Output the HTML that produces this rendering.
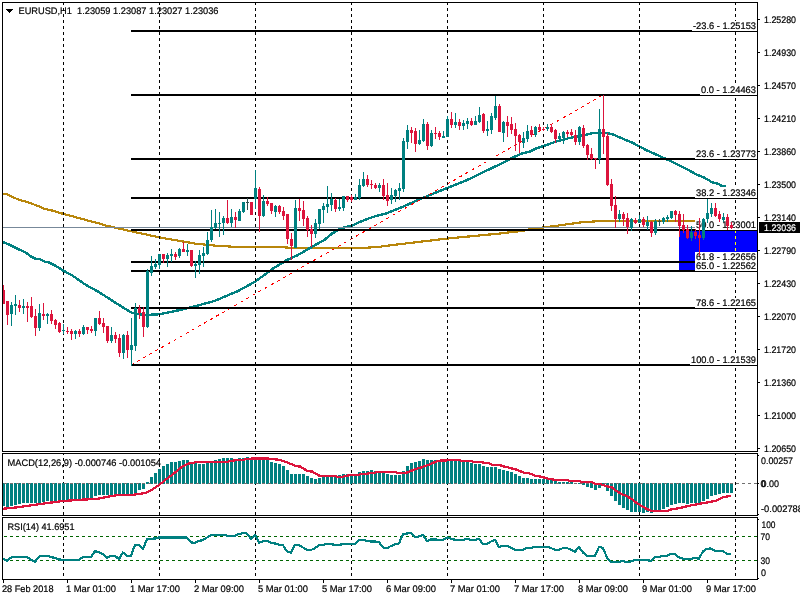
<!DOCTYPE html>
<html><head><meta charset="utf-8"><title>EURUSD,H1</title>
<style>html,body{margin:0;padding:0;background:#fff;overflow:hidden}svg{display:block}</style></head>
<body>
<svg width="800" height="600" viewBox="0 0 800 600" shape-rendering="crispEdges" font-family="&quot;Liberation Sans&quot;, sans-serif" font-size="9.5" text-rendering="geometricPrecision">
<rect x="0" y="0" width="800" height="600" fill="#fff"/>
<defs><clipPath id="cm"><rect x="3" y="3" width="754" height="448"/></clipPath><clipPath id="c2"><rect x="3" y="454" width="754" height="61"/></clipPath><clipPath id="c3"><rect x="3" y="518" width="754" height="61"/></clipPath></defs>
<g clip-path="url(#cm)">
<polyline points="3.00,194.00 7.00,194.00 12.00,197.00 20.00,200.00 30.00,203.00 38.00,206.00 45.00,209.00 52.00,210.50 60.00,213.00 63.00,213.75 100.00,223.75 103.50,225.00 131.00,231.25 160.00,237.50 196.00,243.75 215.00,245.60 236.00,246.90 280.00,246.90 292.00,248.00 363.00,248.00 380.00,246.75 388.00,245.60 447.50,238.50 500.00,233.50 523.00,230.80 532.00,228.70 543.00,227.50 560.00,225.30 580.00,222.50 588.00,221.90 600.00,221.00 700.00,221.00" fill="none" stroke="#B8860B" stroke-width="2.2" stroke-linejoin="round" />
<polyline points="3.00,242.00 10.00,245.00 18.00,249.00 26.00,252.75 31.00,256.50 36.00,259.10 40.00,259.30 45.00,261.75 48.00,262.00 55.00,265.50 60.00,268.50 63.00,270.50 72.50,275.60 85.00,284.40 97.50,291.25 103.50,295.00 112.00,300.50 125.00,308.75 132.00,313.00 140.00,314.50 146.00,315.00 160.00,314.20 180.00,310.00 196.00,306.00 215.00,300.80 238.00,291.00 255.75,281.30 272.00,269.20 287.00,260.00 298.00,255.00 313.00,246.25 324.25,240.00 331.75,233.75 341.75,228.00 351.75,225.60 363.00,220.60 373.00,216.90 387.50,213.00 402.50,206.90 421.00,198.75 430.00,195.00 447.00,188.00 460.00,183.00 470.00,178.75 480.00,173.75 492.00,168.00 505.00,161.90 511.00,158.50 517.00,155.60 523.50,153.00 530.00,151.50 536.00,148.50 543.00,146.25 557.00,141.25 569.50,138.00 584.50,135.00 594.50,132.75 607.00,133.00 613.00,134.40 619.50,137.25 627.00,140.60 632.00,142.50 646.00,150.00 660.00,156.25 672.50,162.00 687.50,169.40 695.00,173.75 705.00,178.00 712.50,182.50 718.00,183.75 722.00,186.00 726.00,186.25" fill="none" stroke="#008080" stroke-width="2.4" stroke-linejoin="round" />
<rect x="3" y="227" width="754" height="1" fill="#778899"/>
<line x1="131" y1="365" x2="603" y2="95" stroke="#FF0000" stroke-width="1" stroke-dasharray="3.1 3.908"/>
<rect x="679" y="231" width="78" height="39" fill="#0000FF"/>
<rect x="131" y="30" width="626" height="2" fill="#000"/>
<rect x="131" y="94" width="626" height="2" fill="#000"/>
<rect x="131" y="158" width="626" height="2" fill="#000"/>
<rect x="131" y="197" width="626" height="2" fill="#000"/>
<rect x="131" y="229" width="626" height="2" fill="#000"/>
<rect x="131" y="261" width="626" height="2" fill="#000"/>
<rect x="131" y="270" width="626" height="2" fill="#000"/>
<rect x="131" y="307" width="626" height="2" fill="#000"/>
<rect x="131" y="364" width="626" height="2" fill="#000"/>
<line x1="63.5" y1="3" x2="63.5" y2="451" stroke="#000" stroke-width="1" stroke-dasharray="3 3" stroke-dashoffset="1"/>
<line x1="159.5" y1="3" x2="159.5" y2="451" stroke="#000" stroke-width="1" stroke-dasharray="3 3" stroke-dashoffset="1"/>
<line x1="255.5" y1="3" x2="255.5" y2="451" stroke="#000" stroke-width="1" stroke-dasharray="3 3" stroke-dashoffset="1"/>
<line x1="351.5" y1="3" x2="351.5" y2="451" stroke="#000" stroke-width="1" stroke-dasharray="3 3" stroke-dashoffset="1"/>
<line x1="447.5" y1="3" x2="447.5" y2="451" stroke="#000" stroke-width="1" stroke-dasharray="3 3" stroke-dashoffset="1"/>
<line x1="543.5" y1="3" x2="543.5" y2="451" stroke="#000" stroke-width="1" stroke-dasharray="3 3" stroke-dashoffset="1"/>
<line x1="639.5" y1="3" x2="639.5" y2="451" stroke="#000" stroke-width="1" stroke-dasharray="3 3" stroke-dashoffset="1"/>
<line x1="735.5" y1="3" x2="735.5" y2="451" stroke="#000" stroke-width="1" stroke-dasharray="3 3" stroke-dashoffset="1"/>
<clipPath id="cb"><rect x="679" y="231" width="78" height="39"/></clipPath>
<g clip-path="url(#cb)"><line x1="735.5" y1="3" x2="735.5" y2="451" stroke="#FFFF00" stroke-width="1" stroke-dasharray="3 3" stroke-dashoffset="1"/></g>
<rect x="692" y="21" width="65" height="10" fill="#fff"/>
<text x="756" y="29" text-anchor="end" fill="#000" stroke="#000" stroke-width="0.2" textLength="63" lengthAdjust="spacingAndGlyphs" xml:space="preserve">-23.6 - 1.25153</text>
<rect x="700" y="85" width="57" height="10" fill="#fff"/>
<text x="756" y="93" text-anchor="end" fill="#000" stroke="#000" stroke-width="0.2" textLength="55" lengthAdjust="spacingAndGlyphs" xml:space="preserve">0.0 - 1.24463</text>
<rect x="695" y="149" width="62" height="10" fill="#fff"/>
<text x="756" y="157" text-anchor="end" fill="#000" stroke="#000" stroke-width="0.2" textLength="60" lengthAdjust="spacingAndGlyphs" xml:space="preserve">23.6 - 1.23773</text>
<rect x="695" y="188" width="62" height="10" fill="#fff"/>
<text x="756" y="196" text-anchor="end" fill="#000" stroke="#000" stroke-width="0.2" textLength="60" lengthAdjust="spacingAndGlyphs" xml:space="preserve">38.2 - 1.23346</text>
<rect x="695" y="220" width="62" height="10" fill="#fff"/>
<text x="756" y="228" text-anchor="end" fill="#000" stroke="#000" stroke-width="0.2" textLength="60" lengthAdjust="spacingAndGlyphs" xml:space="preserve">50.0 - 1.23001</text>
<rect x="695" y="252" width="62" height="10" fill="#fff"/>
<text x="756" y="260" text-anchor="end" fill="#000" stroke="#000" stroke-width="0.2" textLength="60" lengthAdjust="spacingAndGlyphs" xml:space="preserve">61.8 - 1.22656</text>
<rect x="695" y="261" width="62" height="10" fill="#fff"/>
<text x="756" y="269" text-anchor="end" fill="#000" stroke="#000" stroke-width="0.2" textLength="60" lengthAdjust="spacingAndGlyphs" xml:space="preserve">65.0 - 1.22562</text>
<rect x="695" y="298" width="62" height="10" fill="#fff"/>
<text x="756" y="306" text-anchor="end" fill="#000" stroke="#000" stroke-width="0.2" textLength="60" lengthAdjust="spacingAndGlyphs" xml:space="preserve">78.6 - 1.22165</text>
<rect x="690" y="355" width="67" height="10" fill="#fff"/>
<text x="756" y="363" text-anchor="end" fill="#000" stroke="#000" stroke-width="0.2" textLength="65" lengthAdjust="spacingAndGlyphs" xml:space="preserve">100.0 - 1.21539</text>
<rect x="3" y="285" width="1" height="19" fill="#DC143C"/>
<rect x="2" y="290" width="3" height="14" fill="#DC143C"/>
<rect x="7" y="301" width="1" height="24" fill="#DC143C"/>
<rect x="6" y="301" width="3" height="14" fill="#DC143C"/>
<rect x="11" y="302" width="1" height="24" fill="#008080"/>
<rect x="10" y="305" width="3" height="9" fill="#008080"/>
<rect x="15" y="295" width="1" height="20" fill="#008080"/>
<rect x="14" y="304" width="3" height="2" fill="#008080"/>
<rect x="19" y="300" width="1" height="12" fill="#DC143C"/>
<rect x="18" y="305" width="3" height="3" fill="#DC143C"/>
<rect x="23" y="299" width="1" height="15" fill="#008080"/>
<rect x="22" y="306" width="3" height="2" fill="#008080"/>
<rect x="27" y="302" width="1" height="20" fill="#DC143C"/>
<rect x="26" y="306" width="3" height="2" fill="#DC143C"/>
<rect x="31" y="297" width="1" height="21" fill="#DC143C"/>
<rect x="30" y="306" width="3" height="11" fill="#DC143C"/>
<rect x="35" y="309" width="1" height="27" fill="#DC143C"/>
<rect x="34" y="316" width="3" height="12" fill="#DC143C"/>
<rect x="39" y="304" width="1" height="27" fill="#008080"/>
<rect x="38" y="313" width="3" height="15" fill="#008080"/>
<rect x="43" y="303" width="1" height="17" fill="#DC143C"/>
<rect x="42" y="314" width="3" height="2" fill="#DC143C"/>
<rect x="47" y="313" width="1" height="11" fill="#008080"/>
<rect x="46" y="314" width="3" height="2" fill="#008080"/>
<rect x="51" y="310" width="1" height="14" fill="#DC143C"/>
<rect x="50" y="314" width="3" height="7" fill="#DC143C"/>
<rect x="55" y="319" width="1" height="10" fill="#DC143C"/>
<rect x="54" y="320" width="3" height="5" fill="#DC143C"/>
<rect x="59" y="322" width="1" height="11" fill="#DC143C"/>
<rect x="58" y="323" width="3" height="9" fill="#DC143C"/>
<rect x="63" y="324" width="1" height="10" fill="#008080"/>
<rect x="62" y="330" width="3" height="1" fill="#008080"/>
<rect x="67" y="327" width="1" height="7" fill="#DC143C"/>
<rect x="66" y="331" width="3" height="1" fill="#DC143C"/>
<rect x="71" y="329" width="1" height="11" fill="#DC143C"/>
<rect x="70" y="331" width="3" height="3" fill="#DC143C"/>
<rect x="75" y="330" width="1" height="9" fill="#008080"/>
<rect x="74" y="331" width="3" height="3" fill="#008080"/>
<rect x="79" y="329" width="1" height="8" fill="#DC143C"/>
<rect x="78" y="331" width="3" height="3" fill="#DC143C"/>
<rect x="83" y="325" width="1" height="10" fill="#008080"/>
<rect x="82" y="327" width="3" height="7" fill="#008080"/>
<rect x="87" y="327" width="1" height="7" fill="#DC143C"/>
<rect x="86" y="327" width="3" height="3" fill="#DC143C"/>
<rect x="91" y="326" width="1" height="7" fill="#DC143C"/>
<rect x="90" y="329" width="3" height="2" fill="#DC143C"/>
<rect x="95" y="318" width="1" height="18" fill="#008080"/>
<rect x="94" y="318" width="3" height="13" fill="#008080"/>
<rect x="99" y="311" width="1" height="14" fill="#DC143C"/>
<rect x="98" y="318" width="3" height="6" fill="#DC143C"/>
<rect x="103" y="318" width="1" height="15" fill="#DC143C"/>
<rect x="102" y="323" width="3" height="4" fill="#DC143C"/>
<rect x="107" y="326" width="1" height="17" fill="#DC143C"/>
<rect x="106" y="326" width="3" height="15" fill="#DC143C"/>
<rect x="111" y="327" width="1" height="16" fill="#008080"/>
<rect x="110" y="335" width="3" height="6" fill="#008080"/>
<rect x="115" y="332" width="1" height="11" fill="#DC143C"/>
<rect x="114" y="335" width="3" height="4" fill="#DC143C"/>
<rect x="119" y="334" width="1" height="23" fill="#DC143C"/>
<rect x="118" y="338" width="3" height="15" fill="#DC143C"/>
<rect x="123" y="334" width="1" height="25" fill="#008080"/>
<rect x="122" y="335" width="3" height="18" fill="#008080"/>
<rect x="127" y="331" width="1" height="27" fill="#DC143C"/>
<rect x="126" y="335" width="3" height="15" fill="#DC143C"/>
<rect x="131" y="318" width="1" height="48" fill="#008080"/>
<rect x="130" y="345" width="3" height="5" fill="#008080"/>
<rect x="135" y="303" width="1" height="48" fill="#008080"/>
<rect x="134" y="308" width="3" height="38" fill="#008080"/>
<rect x="139" y="305" width="1" height="14" fill="#DC143C"/>
<rect x="138" y="308" width="3" height="5" fill="#DC143C"/>
<rect x="143" y="307" width="1" height="30" fill="#DC143C"/>
<rect x="142" y="312" width="3" height="15" fill="#DC143C"/>
<rect x="147" y="269" width="1" height="59" fill="#008080"/>
<rect x="146" y="271" width="3" height="56" fill="#008080"/>
<rect x="151" y="256" width="1" height="20" fill="#008080"/>
<rect x="150" y="266" width="3" height="7" fill="#008080"/>
<rect x="155" y="259" width="1" height="10" fill="#008080"/>
<rect x="154" y="264" width="3" height="3" fill="#008080"/>
<rect x="159" y="254" width="1" height="15" fill="#008080"/>
<rect x="158" y="254" width="3" height="11" fill="#008080"/>
<rect x="163" y="254" width="1" height="9" fill="#DC143C"/>
<rect x="162" y="254" width="3" height="5" fill="#DC143C"/>
<rect x="167" y="253" width="1" height="14" fill="#008080"/>
<rect x="166" y="255" width="3" height="4" fill="#008080"/>
<rect x="171" y="249" width="1" height="13" fill="#008080"/>
<rect x="170" y="254" width="3" height="2" fill="#008080"/>
<rect x="175" y="252" width="1" height="8" fill="#DC143C"/>
<rect x="174" y="254" width="3" height="3" fill="#DC143C"/>
<rect x="179" y="248" width="1" height="10" fill="#008080"/>
<rect x="178" y="249" width="3" height="7" fill="#008080"/>
<rect x="183" y="242" width="1" height="10" fill="#DC143C"/>
<rect x="182" y="249" width="3" height="3" fill="#DC143C"/>
<rect x="187" y="244" width="1" height="12" fill="#008080"/>
<rect x="186" y="250" width="3" height="2" fill="#008080"/>
<rect x="191" y="250" width="1" height="17" fill="#DC143C"/>
<rect x="190" y="250" width="3" height="16" fill="#DC143C"/>
<rect x="195" y="261" width="1" height="17" fill="#008080"/>
<rect x="194" y="264" width="3" height="2" fill="#008080"/>
<rect x="199" y="250" width="1" height="24" fill="#008080"/>
<rect x="198" y="255" width="3" height="10" fill="#008080"/>
<rect x="203" y="247" width="1" height="20" fill="#008080"/>
<rect x="202" y="253" width="3" height="3" fill="#008080"/>
<rect x="207" y="232" width="1" height="23" fill="#008080"/>
<rect x="206" y="240" width="3" height="14" fill="#008080"/>
<rect x="211" y="210" width="1" height="32" fill="#008080"/>
<rect x="210" y="227" width="3" height="13" fill="#008080"/>
<rect x="215" y="209" width="1" height="20" fill="#008080"/>
<rect x="214" y="223" width="3" height="5" fill="#008080"/>
<rect x="219" y="212" width="1" height="25" fill="#008080"/>
<rect x="218" y="223" width="3" height="1" fill="#008080"/>
<rect x="223" y="216" width="1" height="19" fill="#008080"/>
<rect x="222" y="218" width="3" height="5" fill="#008080"/>
<rect x="227" y="200" width="1" height="24" fill="#DC143C"/>
<rect x="226" y="218" width="3" height="5" fill="#DC143C"/>
<rect x="231" y="209" width="1" height="18" fill="#008080"/>
<rect x="230" y="217" width="3" height="6" fill="#008080"/>
<rect x="235" y="212" width="1" height="16" fill="#DC143C"/>
<rect x="234" y="217" width="3" height="3" fill="#DC143C"/>
<rect x="239" y="209" width="1" height="12" fill="#008080"/>
<rect x="238" y="211" width="3" height="10" fill="#008080"/>
<rect x="243" y="202" width="1" height="11" fill="#008080"/>
<rect x="242" y="202" width="3" height="10" fill="#008080"/>
<rect x="247" y="198" width="1" height="12" fill="#2F4F4F"/>
<rect x="246" y="202" width="3" height="1" fill="#2F4F4F"/>
<rect x="251" y="202" width="1" height="13" fill="#DC143C"/>
<rect x="250" y="202" width="3" height="13" fill="#DC143C"/>
<rect x="255" y="170" width="1" height="39" fill="#008080"/>
<rect x="254" y="188" width="3" height="11" fill="#008080"/>
<rect x="259" y="187" width="1" height="45" fill="#DC143C"/>
<rect x="258" y="189" width="3" height="27" fill="#DC143C"/>
<rect x="263" y="195" width="1" height="22" fill="#008080"/>
<rect x="262" y="201" width="3" height="15" fill="#008080"/>
<rect x="267" y="197" width="1" height="9" fill="#DC143C"/>
<rect x="266" y="201" width="3" height="3" fill="#DC143C"/>
<rect x="271" y="203" width="1" height="11" fill="#DC143C"/>
<rect x="270" y="203" width="3" height="8" fill="#DC143C"/>
<rect x="275" y="205" width="1" height="12" fill="#008080"/>
<rect x="274" y="206" width="3" height="6" fill="#008080"/>
<rect x="279" y="205" width="1" height="9" fill="#DC143C"/>
<rect x="278" y="206" width="3" height="6" fill="#DC143C"/>
<rect x="283" y="207" width="1" height="13" fill="#DC143C"/>
<rect x="282" y="211" width="3" height="5" fill="#DC143C"/>
<rect x="287" y="214" width="1" height="30" fill="#DC143C"/>
<rect x="286" y="214" width="3" height="25" fill="#DC143C"/>
<rect x="291" y="233" width="1" height="27" fill="#DC143C"/>
<rect x="290" y="239" width="3" height="7" fill="#DC143C"/>
<rect x="295" y="200" width="1" height="48" fill="#008080"/>
<rect x="294" y="208" width="3" height="40" fill="#008080"/>
<rect x="299" y="199" width="1" height="22" fill="#DC143C"/>
<rect x="298" y="208" width="3" height="3" fill="#DC143C"/>
<rect x="303" y="201" width="1" height="25" fill="#DC143C"/>
<rect x="302" y="210" width="3" height="9" fill="#DC143C"/>
<rect x="307" y="216" width="1" height="21" fill="#DC143C"/>
<rect x="306" y="218" width="3" height="12" fill="#DC143C"/>
<rect x="311" y="225" width="1" height="22" fill="#DC143C"/>
<rect x="310" y="229" width="3" height="5" fill="#DC143C"/>
<rect x="315" y="219" width="1" height="19" fill="#008080"/>
<rect x="314" y="223" width="3" height="11" fill="#008080"/>
<rect x="319" y="209" width="1" height="20" fill="#008080"/>
<rect x="318" y="209" width="3" height="15" fill="#008080"/>
<rect x="323" y="203" width="1" height="20" fill="#008080"/>
<rect x="322" y="206" width="3" height="4" fill="#008080"/>
<rect x="327" y="186" width="1" height="27" fill="#008080"/>
<rect x="326" y="204" width="3" height="3" fill="#008080"/>
<rect x="331" y="193" width="1" height="18" fill="#008080"/>
<rect x="330" y="199" width="3" height="6" fill="#008080"/>
<rect x="335" y="198" width="1" height="14" fill="#DC143C"/>
<rect x="334" y="200" width="3" height="9" fill="#DC143C"/>
<rect x="339" y="199" width="1" height="12" fill="#008080"/>
<rect x="338" y="207" width="3" height="2" fill="#008080"/>
<rect x="343" y="196" width="1" height="15" fill="#008080"/>
<rect x="342" y="196" width="3" height="12" fill="#008080"/>
<rect x="347" y="196" width="1" height="6" fill="#DC143C"/>
<rect x="346" y="196" width="3" height="4" fill="#DC143C"/>
<rect x="351" y="195" width="1" height="7" fill="#DC143C"/>
<rect x="350" y="197" width="3" height="3" fill="#DC143C"/>
<rect x="355" y="194" width="1" height="6" fill="#008080"/>
<rect x="354" y="197" width="3" height="3" fill="#008080"/>
<rect x="359" y="179" width="1" height="21" fill="#008080"/>
<rect x="358" y="185" width="3" height="13" fill="#008080"/>
<rect x="363" y="172" width="1" height="15" fill="#008080"/>
<rect x="362" y="179" width="3" height="7" fill="#008080"/>
<rect x="367" y="175" width="1" height="12" fill="#DC143C"/>
<rect x="366" y="179" width="3" height="6" fill="#DC143C"/>
<rect x="371" y="180" width="1" height="9" fill="#DC143C"/>
<rect x="370" y="184" width="3" height="1" fill="#DC143C"/>
<rect x="375" y="183" width="1" height="6" fill="#DC143C"/>
<rect x="374" y="185" width="3" height="3" fill="#DC143C"/>
<rect x="379" y="183" width="1" height="9" fill="#008080"/>
<rect x="378" y="185" width="3" height="3" fill="#008080"/>
<rect x="383" y="179" width="1" height="21" fill="#DC143C"/>
<rect x="382" y="185" width="3" height="11" fill="#DC143C"/>
<rect x="387" y="183" width="1" height="23" fill="#DC143C"/>
<rect x="386" y="195" width="3" height="6" fill="#DC143C"/>
<rect x="391" y="188" width="1" height="16" fill="#008080"/>
<rect x="390" y="195" width="3" height="5" fill="#008080"/>
<rect x="395" y="189" width="1" height="13" fill="#008080"/>
<rect x="394" y="190" width="3" height="6" fill="#008080"/>
<rect x="399" y="183" width="1" height="17" fill="#008080"/>
<rect x="398" y="188" width="3" height="3" fill="#008080"/>
<rect x="403" y="138" width="1" height="54" fill="#008080"/>
<rect x="402" y="141" width="3" height="48" fill="#008080"/>
<rect x="407" y="125" width="1" height="24" fill="#008080"/>
<rect x="406" y="130" width="3" height="12" fill="#008080"/>
<rect x="411" y="127" width="1" height="16" fill="#DC143C"/>
<rect x="410" y="130" width="3" height="3" fill="#DC143C"/>
<rect x="415" y="128" width="1" height="24" fill="#DC143C"/>
<rect x="414" y="131" width="3" height="13" fill="#DC143C"/>
<rect x="419" y="130" width="1" height="15" fill="#008080"/>
<rect x="418" y="140" width="3" height="4" fill="#008080"/>
<rect x="423" y="119" width="1" height="23" fill="#008080"/>
<rect x="422" y="124" width="3" height="17" fill="#008080"/>
<rect x="427" y="122" width="1" height="28" fill="#DC143C"/>
<rect x="426" y="124" width="3" height="22" fill="#DC143C"/>
<rect x="431" y="130" width="1" height="17" fill="#008080"/>
<rect x="430" y="133" width="3" height="13" fill="#008080"/>
<rect x="435" y="127" width="1" height="12" fill="#DC143C"/>
<rect x="434" y="133" width="3" height="1" fill="#DC143C"/>
<rect x="439" y="131" width="1" height="9" fill="#DC143C"/>
<rect x="438" y="133" width="3" height="4" fill="#DC143C"/>
<rect x="443" y="131" width="1" height="7" fill="#008080"/>
<rect x="442" y="136" width="3" height="2" fill="#008080"/>
<rect x="447" y="116" width="1" height="21" fill="#008080"/>
<rect x="446" y="119" width="3" height="18" fill="#008080"/>
<rect x="451" y="112" width="1" height="16" fill="#DC143C"/>
<rect x="450" y="119" width="3" height="6" fill="#DC143C"/>
<rect x="455" y="113" width="1" height="15" fill="#008080"/>
<rect x="454" y="122" width="3" height="3" fill="#008080"/>
<rect x="459" y="119" width="1" height="11" fill="#DC143C"/>
<rect x="458" y="122" width="3" height="4" fill="#DC143C"/>
<rect x="463" y="120" width="1" height="10" fill="#008080"/>
<rect x="462" y="123" width="3" height="3" fill="#008080"/>
<rect x="467" y="118" width="1" height="11" fill="#008080"/>
<rect x="466" y="121" width="3" height="3" fill="#008080"/>
<rect x="471" y="118" width="1" height="8" fill="#DC143C"/>
<rect x="470" y="121" width="3" height="4" fill="#DC143C"/>
<rect x="475" y="116" width="1" height="9" fill="#008080"/>
<rect x="474" y="121" width="3" height="4" fill="#008080"/>
<rect x="479" y="107" width="1" height="16" fill="#008080"/>
<rect x="478" y="115" width="3" height="7" fill="#008080"/>
<rect x="483" y="113" width="1" height="20" fill="#DC143C"/>
<rect x="482" y="114" width="3" height="17" fill="#DC143C"/>
<rect x="487" y="121" width="1" height="15" fill="#008080"/>
<rect x="486" y="129" width="3" height="2" fill="#008080"/>
<rect x="491" y="113" width="1" height="21" fill="#008080"/>
<rect x="490" y="116" width="3" height="14" fill="#008080"/>
<rect x="495" y="96" width="1" height="24" fill="#008080"/>
<rect x="494" y="106" width="3" height="12" fill="#008080"/>
<rect x="499" y="104" width="1" height="28" fill="#DC143C"/>
<rect x="498" y="106" width="3" height="26" fill="#DC143C"/>
<rect x="503" y="121" width="1" height="21" fill="#008080"/>
<rect x="502" y="122" width="3" height="11" fill="#008080"/>
<rect x="507" y="116" width="1" height="21" fill="#DC143C"/>
<rect x="506" y="122" width="3" height="4" fill="#DC143C"/>
<rect x="511" y="117" width="1" height="17" fill="#DC143C"/>
<rect x="510" y="124" width="3" height="6" fill="#DC143C"/>
<rect x="515" y="123" width="1" height="28" fill="#DC143C"/>
<rect x="514" y="129" width="3" height="7" fill="#DC143C"/>
<rect x="519" y="134" width="1" height="19" fill="#DC143C"/>
<rect x="518" y="135" width="3" height="7" fill="#DC143C"/>
<rect x="523" y="132" width="1" height="16" fill="#008080"/>
<rect x="522" y="138" width="3" height="5" fill="#008080"/>
<rect x="527" y="125" width="1" height="17" fill="#008080"/>
<rect x="526" y="131" width="3" height="8" fill="#008080"/>
<rect x="531" y="126" width="1" height="11" fill="#DC143C"/>
<rect x="530" y="130" width="3" height="5" fill="#DC143C"/>
<rect x="535" y="126" width="1" height="11" fill="#008080"/>
<rect x="534" y="127" width="3" height="8" fill="#008080"/>
<rect x="539" y="124" width="1" height="7" fill="#DC143C"/>
<rect x="538" y="127" width="3" height="3" fill="#DC143C"/>
<rect x="543" y="127" width="1" height="4" fill="#DC143C"/>
<rect x="542" y="129" width="3" height="1" fill="#DC143C"/>
<rect x="547" y="124" width="1" height="7" fill="#008080"/>
<rect x="546" y="127" width="3" height="2" fill="#008080"/>
<rect x="551" y="124" width="1" height="9" fill="#DC143C"/>
<rect x="550" y="127" width="3" height="5" fill="#DC143C"/>
<rect x="555" y="129" width="1" height="14" fill="#DC143C"/>
<rect x="554" y="130" width="3" height="9" fill="#DC143C"/>
<rect x="559" y="133" width="1" height="7" fill="#008080"/>
<rect x="558" y="136" width="3" height="3" fill="#008080"/>
<rect x="563" y="131" width="1" height="13" fill="#008080"/>
<rect x="562" y="132" width="3" height="6" fill="#008080"/>
<rect x="567" y="130" width="1" height="7" fill="#DC143C"/>
<rect x="566" y="132" width="3" height="2" fill="#DC143C"/>
<rect x="571" y="129" width="1" height="7" fill="#DC143C"/>
<rect x="570" y="132" width="3" height="3" fill="#DC143C"/>
<rect x="575" y="130" width="1" height="15" fill="#DC143C"/>
<rect x="574" y="135" width="3" height="7" fill="#DC143C"/>
<rect x="579" y="126" width="1" height="19" fill="#008080"/>
<rect x="578" y="127" width="3" height="15" fill="#008080"/>
<rect x="583" y="125" width="1" height="23" fill="#DC143C"/>
<rect x="582" y="128" width="3" height="18" fill="#DC143C"/>
<rect x="587" y="144" width="1" height="16" fill="#DC143C"/>
<rect x="586" y="145" width="3" height="10" fill="#DC143C"/>
<rect x="591" y="148" width="1" height="12" fill="#DC143C"/>
<rect x="590" y="154" width="3" height="5" fill="#DC143C"/>
<rect x="595" y="158" width="1" height="11" fill="#DC143C"/>
<rect x="594" y="158" width="3" height="1" fill="#DC143C"/>
<rect x="599" y="109" width="1" height="55" fill="#008080"/>
<rect x="598" y="129" width="3" height="30" fill="#008080"/>
<rect x="603" y="95" width="1" height="59" fill="#DC143C"/>
<rect x="602" y="129" width="3" height="8" fill="#DC143C"/>
<rect x="607" y="133" width="1" height="53" fill="#DC143C"/>
<rect x="606" y="136" width="3" height="49" fill="#DC143C"/>
<rect x="611" y="179" width="1" height="32" fill="#DC143C"/>
<rect x="610" y="184" width="3" height="22" fill="#DC143C"/>
<rect x="615" y="196" width="1" height="32" fill="#DC143C"/>
<rect x="614" y="205" width="3" height="14" fill="#DC143C"/>
<rect x="619" y="210" width="1" height="12" fill="#008080"/>
<rect x="618" y="214" width="3" height="5" fill="#008080"/>
<rect x="623" y="212" width="1" height="14" fill="#DC143C"/>
<rect x="622" y="214" width="3" height="5" fill="#DC143C"/>
<rect x="627" y="213" width="1" height="21" fill="#DC143C"/>
<rect x="626" y="218" width="3" height="9" fill="#DC143C"/>
<rect x="631" y="218" width="1" height="13" fill="#008080"/>
<rect x="630" y="219" width="3" height="9" fill="#008080"/>
<rect x="635" y="218" width="1" height="6" fill="#DC143C"/>
<rect x="634" y="220" width="3" height="3" fill="#DC143C"/>
<rect x="639" y="215" width="1" height="8" fill="#008080"/>
<rect x="638" y="219" width="3" height="4" fill="#008080"/>
<rect x="643" y="217" width="1" height="10" fill="#DC143C"/>
<rect x="642" y="219" width="3" height="6" fill="#DC143C"/>
<rect x="647" y="216" width="1" height="14" fill="#008080"/>
<rect x="646" y="222" width="3" height="4" fill="#008080"/>
<rect x="651" y="221" width="1" height="16" fill="#DC143C"/>
<rect x="650" y="222" width="3" height="11" fill="#DC143C"/>
<rect x="655" y="219" width="1" height="16" fill="#008080"/>
<rect x="654" y="221" width="3" height="12" fill="#008080"/>
<rect x="659" y="219" width="1" height="7" fill="#2F4F4F"/>
<rect x="658" y="221" width="3" height="1" fill="#2F4F4F"/>
<rect x="663" y="217" width="1" height="7" fill="#008080"/>
<rect x="662" y="218" width="3" height="4" fill="#008080"/>
<rect x="667" y="215" width="1" height="7" fill="#008080"/>
<rect x="666" y="217" width="3" height="2" fill="#008080"/>
<rect x="671" y="211" width="1" height="8" fill="#008080"/>
<rect x="670" y="211" width="3" height="7" fill="#008080"/>
<rect x="675" y="210" width="1" height="12" fill="#DC143C"/>
<rect x="674" y="211" width="3" height="4" fill="#DC143C"/>
<rect x="679" y="211" width="1" height="26" fill="#DC143C"/>
<rect x="678" y="214" width="3" height="12" fill="#DC143C"/>
<rect x="683" y="214" width="1" height="19" fill="#DC143C"/>
<rect x="682" y="225" width="3" height="5" fill="#DC143C"/>
<rect x="687" y="225" width="1" height="14" fill="#DC143C"/>
<rect x="686" y="229" width="3" height="9" fill="#DC143C"/>
<rect x="691" y="226" width="1" height="15" fill="#008080"/>
<rect x="690" y="232" width="3" height="6" fill="#008080"/>
<rect x="695" y="229" width="1" height="10" fill="#DC143C"/>
<rect x="694" y="232" width="3" height="4" fill="#DC143C"/>
<rect x="699" y="218" width="1" height="38" fill="#DC143C"/>
<rect x="698" y="235" width="3" height="3" fill="#DC143C"/>
<rect x="703" y="218" width="1" height="22" fill="#008080"/>
<rect x="702" y="219" width="3" height="19" fill="#008080"/>
<rect x="707" y="199" width="1" height="24" fill="#008080"/>
<rect x="706" y="213" width="3" height="6" fill="#008080"/>
<rect x="711" y="203" width="1" height="14" fill="#008080"/>
<rect x="710" y="208" width="3" height="6" fill="#008080"/>
<rect x="715" y="203" width="1" height="14" fill="#DC143C"/>
<rect x="714" y="208" width="3" height="8" fill="#DC143C"/>
<rect x="719" y="211" width="1" height="11" fill="#DC143C"/>
<rect x="718" y="214" width="3" height="5" fill="#DC143C"/>
<rect x="723" y="213" width="1" height="9" fill="#008080"/>
<rect x="722" y="217" width="3" height="3" fill="#008080"/>
<rect x="727" y="214" width="1" height="16" fill="#DC143C"/>
<rect x="726" y="217" width="3" height="9" fill="#DC143C"/>
<rect x="731" y="222" width="1" height="7" fill="#DC143C"/>
<rect x="730" y="225" width="3" height="3" fill="#DC143C"/>
</g>
<rect x="2" y="2" width="756" height="1" fill="#000"/>
<rect x="2" y="451" width="756" height="1" fill="#000"/>
<rect x="2" y="2" width="1" height="450" fill="#000"/>
<rect x="757" y="2" width="1" height="450" fill="#000"/>
<rect x="2" y="453" width="756" height="1" fill="#000"/>
<rect x="2" y="515" width="756" height="1" fill="#000"/>
<rect x="2" y="453" width="1" height="63" fill="#000"/>
<rect x="757" y="453" width="1" height="63" fill="#000"/>
<rect x="2" y="517" width="756" height="1" fill="#000"/>
<rect x="2" y="579" width="756" height="1" fill="#000"/>
<rect x="2" y="517" width="1" height="63" fill="#000"/>
<rect x="757" y="517" width="1" height="63" fill="#000"/>
<rect x="758" y="19" width="2" height="1" fill="#000"/>
<text x="764" y="23" text-anchor="start" fill="#000" stroke="#000" stroke-width="0.2" textLength="32" lengthAdjust="spacingAndGlyphs" xml:space="preserve">1.25280</text>
<rect x="758" y="52" width="2" height="1" fill="#000"/>
<text x="764" y="56" text-anchor="start" fill="#000" stroke="#000" stroke-width="0.2" textLength="32" lengthAdjust="spacingAndGlyphs" xml:space="preserve">1.24930</text>
<rect x="758" y="85" width="2" height="1" fill="#000"/>
<text x="764" y="89" text-anchor="start" fill="#000" stroke="#000" stroke-width="0.2" textLength="32" lengthAdjust="spacingAndGlyphs" xml:space="preserve">1.24570</text>
<rect x="758" y="118" width="2" height="1" fill="#000"/>
<text x="764" y="122" text-anchor="start" fill="#000" stroke="#000" stroke-width="0.2" textLength="32" lengthAdjust="spacingAndGlyphs" xml:space="preserve">1.24210</text>
<rect x="758" y="151" width="2" height="1" fill="#000"/>
<text x="764" y="155" text-anchor="start" fill="#000" stroke="#000" stroke-width="0.2" textLength="32" lengthAdjust="spacingAndGlyphs" xml:space="preserve">1.23860</text>
<rect x="758" y="184" width="2" height="1" fill="#000"/>
<text x="764" y="188" text-anchor="start" fill="#000" stroke="#000" stroke-width="0.2" textLength="32" lengthAdjust="spacingAndGlyphs" xml:space="preserve">1.23500</text>
<rect x="758" y="217" width="2" height="1" fill="#000"/>
<text x="764" y="221" text-anchor="start" fill="#000" stroke="#000" stroke-width="0.2" textLength="32" lengthAdjust="spacingAndGlyphs" xml:space="preserve">1.23140</text>
<rect x="758" y="250" width="2" height="1" fill="#000"/>
<text x="764" y="254" text-anchor="start" fill="#000" stroke="#000" stroke-width="0.2" textLength="32" lengthAdjust="spacingAndGlyphs" xml:space="preserve">1.22790</text>
<rect x="758" y="283" width="2" height="1" fill="#000"/>
<text x="764" y="287" text-anchor="start" fill="#000" stroke="#000" stroke-width="0.2" textLength="32" lengthAdjust="spacingAndGlyphs" xml:space="preserve">1.22430</text>
<rect x="758" y="316" width="2" height="1" fill="#000"/>
<text x="764" y="320" text-anchor="start" fill="#000" stroke="#000" stroke-width="0.2" textLength="32" lengthAdjust="spacingAndGlyphs" xml:space="preserve">1.22070</text>
<rect x="758" y="349" width="2" height="1" fill="#000"/>
<text x="764" y="353" text-anchor="start" fill="#000" stroke="#000" stroke-width="0.2" textLength="32" lengthAdjust="spacingAndGlyphs" xml:space="preserve">1.21720</text>
<rect x="758" y="382" width="2" height="1" fill="#000"/>
<text x="764" y="386" text-anchor="start" fill="#000" stroke="#000" stroke-width="0.2" textLength="32" lengthAdjust="spacingAndGlyphs" xml:space="preserve">1.21360</text>
<rect x="758" y="415" width="2" height="1" fill="#000"/>
<text x="764" y="419" text-anchor="start" fill="#000" stroke="#000" stroke-width="0.2" textLength="32" lengthAdjust="spacingAndGlyphs" xml:space="preserve">1.21000</text>
<rect x="758" y="448" width="2" height="1" fill="#000"/>
<text x="764" y="452" text-anchor="start" fill="#000" stroke="#000" stroke-width="0.2" textLength="32" lengthAdjust="spacingAndGlyphs" xml:space="preserve">1.20650</text>
<rect x="759" y="222" width="41" height="11" fill="#000"/>
<text x="764" y="231" text-anchor="start" fill="#fff" stroke="#fff" stroke-width="0.2" textLength="32" lengthAdjust="spacingAndGlyphs" xml:space="preserve">1.23036</text>
<rect x="6" y="9" width="7" height="1" fill="#000"/>
<rect x="7" y="10" width="5" height="1" fill="#000"/>
<rect x="8" y="11" width="3" height="1" fill="#000"/>
<rect x="9" y="12" width="1" height="1" fill="#000"/>
<text x="18.5" y="14" text-anchor="start" fill="#000" stroke="#000" stroke-width="0.2" textLength="200" lengthAdjust="spacingAndGlyphs" xml:space="preserve">EURUSD,H1  1.23059 1.23087 1.23027 1.23036</text>
<g clip-path="url(#c2)">
<line x1="63.5" y1="454" x2="63.5" y2="515" stroke="#000" stroke-width="1" stroke-dasharray="3 3" stroke-dashoffset="2"/>
<line x1="159.5" y1="454" x2="159.5" y2="515" stroke="#000" stroke-width="1" stroke-dasharray="3 3" stroke-dashoffset="2"/>
<line x1="255.5" y1="454" x2="255.5" y2="515" stroke="#000" stroke-width="1" stroke-dasharray="3 3" stroke-dashoffset="2"/>
<line x1="351.5" y1="454" x2="351.5" y2="515" stroke="#000" stroke-width="1" stroke-dasharray="3 3" stroke-dashoffset="2"/>
<line x1="447.5" y1="454" x2="447.5" y2="515" stroke="#000" stroke-width="1" stroke-dasharray="3 3" stroke-dashoffset="2"/>
<line x1="543.5" y1="454" x2="543.5" y2="515" stroke="#000" stroke-width="1" stroke-dasharray="3 3" stroke-dashoffset="2"/>
<line x1="639.5" y1="454" x2="639.5" y2="515" stroke="#000" stroke-width="1" stroke-dasharray="3 3" stroke-dashoffset="2"/>
<line x1="735.5" y1="454" x2="735.5" y2="515" stroke="#000" stroke-width="1" stroke-dasharray="3 3" stroke-dashoffset="2"/>
<rect x="2" y="483" width="3" height="23" fill="#008080"/>
<rect x="6" y="483" width="3" height="24" fill="#008080"/>
<rect x="10" y="483" width="3" height="23" fill="#008080"/>
<rect x="14" y="483" width="3" height="22" fill="#008080"/>
<rect x="18" y="483" width="3" height="21" fill="#008080"/>
<rect x="22" y="483" width="3" height="20" fill="#008080"/>
<rect x="26" y="483" width="3" height="20" fill="#008080"/>
<rect x="30" y="483" width="3" height="20" fill="#008080"/>
<rect x="34" y="483" width="3" height="20" fill="#008080"/>
<rect x="38" y="483" width="3" height="20" fill="#008080"/>
<rect x="42" y="483" width="3" height="19" fill="#008080"/>
<rect x="46" y="483" width="3" height="18" fill="#008080"/>
<rect x="50" y="483" width="3" height="18" fill="#008080"/>
<rect x="54" y="483" width="3" height="18" fill="#008080"/>
<rect x="58" y="483" width="3" height="17" fill="#008080"/>
<rect x="62" y="483" width="3" height="17" fill="#008080"/>
<rect x="66" y="483" width="3" height="17" fill="#008080"/>
<rect x="70" y="483" width="3" height="17" fill="#008080"/>
<rect x="74" y="483" width="3" height="16" fill="#008080"/>
<rect x="78" y="483" width="3" height="16" fill="#008080"/>
<rect x="82" y="483" width="3" height="16" fill="#008080"/>
<rect x="86" y="483" width="3" height="15" fill="#008080"/>
<rect x="90" y="483" width="3" height="15" fill="#008080"/>
<rect x="94" y="483" width="3" height="13" fill="#008080"/>
<rect x="98" y="483" width="3" height="12" fill="#008080"/>
<rect x="102" y="483" width="3" height="12" fill="#008080"/>
<rect x="106" y="483" width="3" height="12" fill="#008080"/>
<rect x="110" y="483" width="3" height="12" fill="#008080"/>
<rect x="114" y="483" width="3" height="11" fill="#008080"/>
<rect x="118" y="483" width="3" height="11" fill="#008080"/>
<rect x="122" y="483" width="3" height="11" fill="#008080"/>
<rect x="126" y="483" width="3" height="11" fill="#008080"/>
<rect x="130" y="483" width="3" height="11" fill="#008080"/>
<rect x="134" y="483" width="3" height="10" fill="#008080"/>
<rect x="138" y="483" width="3" height="7" fill="#008080"/>
<rect x="142" y="483" width="3" height="6" fill="#008080"/>
<rect x="146" y="482" width="3" height="2" fill="#008080"/>
<rect x="150" y="477" width="3" height="7" fill="#008080"/>
<rect x="154" y="473" width="3" height="11" fill="#008080"/>
<rect x="158" y="469" width="3" height="15" fill="#008080"/>
<rect x="162" y="466" width="3" height="18" fill="#008080"/>
<rect x="166" y="464" width="3" height="20" fill="#008080"/>
<rect x="170" y="462" width="3" height="22" fill="#008080"/>
<rect x="174" y="462" width="3" height="22" fill="#008080"/>
<rect x="178" y="461" width="3" height="23" fill="#008080"/>
<rect x="182" y="460" width="3" height="24" fill="#008080"/>
<rect x="186" y="460" width="3" height="24" fill="#008080"/>
<rect x="190" y="462" width="3" height="22" fill="#008080"/>
<rect x="194" y="463" width="3" height="21" fill="#008080"/>
<rect x="198" y="464" width="3" height="20" fill="#008080"/>
<rect x="202" y="464" width="3" height="20" fill="#008080"/>
<rect x="206" y="463" width="3" height="21" fill="#008080"/>
<rect x="210" y="461" width="3" height="23" fill="#008080"/>
<rect x="214" y="460" width="3" height="24" fill="#008080"/>
<rect x="218" y="459" width="3" height="25" fill="#008080"/>
<rect x="222" y="458" width="3" height="26" fill="#008080"/>
<rect x="226" y="458" width="3" height="26" fill="#008080"/>
<rect x="230" y="458" width="3" height="26" fill="#008080"/>
<rect x="234" y="459" width="3" height="25" fill="#008080"/>
<rect x="238" y="458" width="3" height="26" fill="#008080"/>
<rect x="242" y="458" width="3" height="26" fill="#008080"/>
<rect x="246" y="457" width="3" height="27" fill="#008080"/>
<rect x="250" y="458" width="3" height="26" fill="#008080"/>
<rect x="254" y="457" width="3" height="27" fill="#008080"/>
<rect x="258" y="458" width="3" height="26" fill="#008080"/>
<rect x="262" y="458" width="3" height="26" fill="#008080"/>
<rect x="266" y="460" width="3" height="24" fill="#008080"/>
<rect x="270" y="462" width="3" height="22" fill="#008080"/>
<rect x="274" y="463" width="3" height="21" fill="#008080"/>
<rect x="278" y="464" width="3" height="20" fill="#008080"/>
<rect x="282" y="466" width="3" height="18" fill="#008080"/>
<rect x="286" y="470" width="3" height="14" fill="#008080"/>
<rect x="290" y="474" width="3" height="10" fill="#008080"/>
<rect x="294" y="474" width="3" height="10" fill="#008080"/>
<rect x="298" y="474" width="3" height="10" fill="#008080"/>
<rect x="302" y="474" width="3" height="10" fill="#008080"/>
<rect x="306" y="476" width="3" height="8" fill="#008080"/>
<rect x="310" y="478" width="3" height="6" fill="#008080"/>
<rect x="314" y="479" width="3" height="5" fill="#008080"/>
<rect x="318" y="478" width="3" height="6" fill="#008080"/>
<rect x="322" y="476" width="3" height="8" fill="#008080"/>
<rect x="326" y="476" width="3" height="8" fill="#008080"/>
<rect x="330" y="476" width="3" height="8" fill="#008080"/>
<rect x="334" y="476" width="3" height="8" fill="#008080"/>
<rect x="338" y="475" width="3" height="9" fill="#008080"/>
<rect x="342" y="474" width="3" height="10" fill="#008080"/>
<rect x="346" y="474" width="3" height="10" fill="#008080"/>
<rect x="350" y="474" width="3" height="10" fill="#008080"/>
<rect x="354" y="474" width="3" height="10" fill="#008080"/>
<rect x="358" y="472" width="3" height="12" fill="#008080"/>
<rect x="362" y="471" width="3" height="13" fill="#008080"/>
<rect x="366" y="471" width="3" height="13" fill="#008080"/>
<rect x="370" y="470" width="3" height="14" fill="#008080"/>
<rect x="374" y="471" width="3" height="13" fill="#008080"/>
<rect x="378" y="471" width="3" height="13" fill="#008080"/>
<rect x="382" y="473" width="3" height="11" fill="#008080"/>
<rect x="386" y="474" width="3" height="10" fill="#008080"/>
<rect x="390" y="475" width="3" height="9" fill="#008080"/>
<rect x="394" y="475" width="3" height="9" fill="#008080"/>
<rect x="398" y="475" width="3" height="9" fill="#008080"/>
<rect x="402" y="471" width="3" height="13" fill="#008080"/>
<rect x="406" y="466" width="3" height="18" fill="#008080"/>
<rect x="410" y="463" width="3" height="21" fill="#008080"/>
<rect x="414" y="462" width="3" height="22" fill="#008080"/>
<rect x="418" y="461" width="3" height="23" fill="#008080"/>
<rect x="422" y="459" width="3" height="25" fill="#008080"/>
<rect x="426" y="460" width="3" height="24" fill="#008080"/>
<rect x="430" y="460" width="3" height="24" fill="#008080"/>
<rect x="434" y="460" width="3" height="24" fill="#008080"/>
<rect x="438" y="460" width="3" height="24" fill="#008080"/>
<rect x="442" y="460" width="3" height="24" fill="#008080"/>
<rect x="446" y="459" width="3" height="25" fill="#008080"/>
<rect x="450" y="460" width="3" height="24" fill="#008080"/>
<rect x="454" y="460" width="3" height="24" fill="#008080"/>
<rect x="458" y="461" width="3" height="23" fill="#008080"/>
<rect x="462" y="462" width="3" height="22" fill="#008080"/>
<rect x="466" y="462" width="3" height="22" fill="#008080"/>
<rect x="470" y="463" width="3" height="21" fill="#008080"/>
<rect x="474" y="464" width="3" height="20" fill="#008080"/>
<rect x="478" y="464" width="3" height="20" fill="#008080"/>
<rect x="482" y="466" width="3" height="18" fill="#008080"/>
<rect x="486" y="467" width="3" height="17" fill="#008080"/>
<rect x="490" y="467" width="3" height="17" fill="#008080"/>
<rect x="494" y="467" width="3" height="17" fill="#008080"/>
<rect x="498" y="469" width="3" height="15" fill="#008080"/>
<rect x="502" y="470" width="3" height="14" fill="#008080"/>
<rect x="506" y="471" width="3" height="13" fill="#008080"/>
<rect x="510" y="472" width="3" height="12" fill="#008080"/>
<rect x="514" y="474" width="3" height="10" fill="#008080"/>
<rect x="518" y="476" width="3" height="8" fill="#008080"/>
<rect x="522" y="478" width="3" height="6" fill="#008080"/>
<rect x="526" y="478" width="3" height="6" fill="#008080"/>
<rect x="530" y="479" width="3" height="5" fill="#008080"/>
<rect x="534" y="479" width="3" height="5" fill="#008080"/>
<rect x="538" y="479" width="3" height="5" fill="#008080"/>
<rect x="542" y="479" width="3" height="5" fill="#008080"/>
<rect x="546" y="479" width="3" height="5" fill="#008080"/>
<rect x="550" y="480" width="3" height="4" fill="#008080"/>
<rect x="554" y="481" width="3" height="3" fill="#008080"/>
<rect x="558" y="482" width="3" height="2" fill="#008080"/>
<rect x="562" y="482" width="3" height="2" fill="#008080"/>
<rect x="566" y="482" width="3" height="2" fill="#008080"/>
<rect x="570" y="482" width="3" height="2" fill="#008080"/>
<rect x="574" y="483" width="3" height="1" fill="#008080"/>
<rect x="578" y="483" width="3" height="1" fill="#008080"/>
<rect x="582" y="483" width="3" height="2" fill="#008080"/>
<rect x="586" y="483" width="3" height="4" fill="#008080"/>
<rect x="590" y="483" width="3" height="5" fill="#008080"/>
<rect x="594" y="483" width="3" height="7" fill="#008080"/>
<rect x="598" y="483" width="3" height="5" fill="#008080"/>
<rect x="602" y="483" width="3" height="2" fill="#008080"/>
<rect x="606" y="483" width="3" height="8" fill="#008080"/>
<rect x="610" y="483" width="3" height="13" fill="#008080"/>
<rect x="614" y="483" width="3" height="18" fill="#008080"/>
<rect x="618" y="483" width="3" height="22" fill="#008080"/>
<rect x="622" y="483" width="3" height="25" fill="#008080"/>
<rect x="626" y="483" width="3" height="27" fill="#008080"/>
<rect x="630" y="483" width="3" height="29" fill="#008080"/>
<rect x="634" y="483" width="3" height="29" fill="#008080"/>
<rect x="638" y="483" width="3" height="29" fill="#008080"/>
<rect x="642" y="483" width="3" height="30" fill="#008080"/>
<rect x="646" y="483" width="3" height="29" fill="#008080"/>
<rect x="650" y="483" width="3" height="30" fill="#008080"/>
<rect x="654" y="483" width="3" height="29" fill="#008080"/>
<rect x="658" y="483" width="3" height="28" fill="#008080"/>
<rect x="662" y="483" width="3" height="26" fill="#008080"/>
<rect x="666" y="483" width="3" height="24" fill="#008080"/>
<rect x="670" y="483" width="3" height="22" fill="#008080"/>
<rect x="674" y="483" width="3" height="21" fill="#008080"/>
<rect x="678" y="483" width="3" height="20" fill="#008080"/>
<rect x="682" y="483" width="3" height="20" fill="#008080"/>
<rect x="686" y="483" width="3" height="21" fill="#008080"/>
<rect x="690" y="483" width="3" height="20" fill="#008080"/>
<rect x="694" y="483" width="3" height="20" fill="#008080"/>
<rect x="698" y="483" width="3" height="20" fill="#008080"/>
<rect x="702" y="483" width="3" height="18" fill="#008080"/>
<rect x="706" y="483" width="3" height="16" fill="#008080"/>
<rect x="710" y="483" width="3" height="13" fill="#008080"/>
<rect x="714" y="483" width="3" height="12" fill="#008080"/>
<rect x="718" y="483" width="3" height="11" fill="#008080"/>
<rect x="722" y="483" width="3" height="10" fill="#008080"/>
<rect x="726" y="483" width="3" height="10" fill="#008080"/>
<rect x="730" y="483" width="3" height="10" fill="#008080"/>
<line x1="4" y1="483.5" x2="757" y2="483.5" stroke="#707070" stroke-width="1" stroke-dasharray="3 3"/>
<polyline points="3.00,508.75 20.00,507.00 40.00,504.00 63.00,501.00 80.00,499.75 96.00,499.00 116.00,495.25 133.50,494.75 146.00,493.00 152.00,489.75 159.75,484.40 166.00,479.40 173.50,473.75 181.00,467.50 188.50,463.50 192.00,463.00 197.00,462.00 227.00,462.00 230.00,461.00 236.00,460.25 242.00,460.25 245.00,459.40 252.00,458.50 267.00,458.50 273.00,459.00 280.00,460.00 286.00,462.00 292.00,464.40 296.00,466.25 300.00,466.50 308.00,471.25 312.00,471.50 318.00,475.00 320.00,476.00 335.00,476.00 338.00,476.90 343.00,476.90 345.00,476.00 351.00,475.00 358.00,475.00 362.00,473.75 367.00,473.75 370.00,472.90 375.00,472.90 377.00,471.90 395.00,471.90 397.00,472.90 406.00,472.90 410.00,471.25 415.00,469.40 421.00,467.50 428.00,465.00 434.00,462.50 437.00,461.25 440.00,460.60 446.00,460.60 449.00,459.75 459.00,459.75 461.00,461.00 471.00,461.00 473.00,461.90 480.00,461.90 484.00,462.70 487.00,462.70 490.00,463.75 492.00,464.75 499.00,464.75 503.00,466.25 508.00,467.25 512.00,468.50 517.00,469.75 521.00,471.50 524.00,472.75 528.00,472.75 531.00,474.00 535.00,475.60 540.00,476.50 545.00,477.75 549.00,479.00 555.00,479.75 567.00,479.75 569.00,481.00 580.00,481.00 582.00,482.25 592.00,482.25 595.00,484.00 600.00,484.00 603.00,485.00 607.00,486.25 612.00,487.50 616.00,490.60 621.00,493.75 627.00,496.25 632.00,499.40 636.00,502.50 640.00,505.00 645.00,508.00 649.00,510.00 652.00,511.00 667.00,511.00 670.00,509.75 680.00,508.00 690.00,505.60 700.00,503.75 710.00,501.90 716.00,500.60 720.00,498.75 724.00,496.90 731.00,496.00" fill="none" stroke="#DC143C" stroke-width="2.3" stroke-linejoin="round" />
</g>
<text x="7.5" y="466" text-anchor="start" fill="#000" stroke="#000" stroke-width="0.2" textLength="153.5" lengthAdjust="spacingAndGlyphs" xml:space="preserve">MACD(12,26,9) -0.000746 -0.001054</text>
<rect x="758" y="455" width="1" height="1" fill="#000"/>
<rect x="758" y="483" width="1" height="1" fill="#000"/>
<rect x="758" y="514" width="1" height="1" fill="#000"/>
<text x="761" y="464" text-anchor="start" fill="#000" stroke="#000" stroke-width="0.2" textLength="32" lengthAdjust="spacingAndGlyphs" xml:space="preserve">0.00257</text>
<text x="761.5" y="487" text-anchor="start" fill="#000" stroke="#000" stroke-width="0.2" textLength="17.5" lengthAdjust="spacingAndGlyphs" xml:space="preserve">0.00</text>
<text x="760.5" y="487" text-anchor="start" fill="#000" stroke="#000" stroke-width="0.2" textLength="5" lengthAdjust="spacingAndGlyphs" xml:space="preserve">0</text>
<text x="761" y="512" text-anchor="start" fill="#000" stroke="#000" stroke-width="0.2" textLength="42" lengthAdjust="spacingAndGlyphs" xml:space="preserve">-0.002788</text>
<g clip-path="url(#c3)">
<line x1="63.5" y1="518" x2="63.5" y2="579" stroke="#000" stroke-width="1" stroke-dasharray="3 3" stroke-dashoffset="5"/>
<line x1="159.5" y1="518" x2="159.5" y2="579" stroke="#000" stroke-width="1" stroke-dasharray="3 3" stroke-dashoffset="5"/>
<line x1="255.5" y1="518" x2="255.5" y2="579" stroke="#000" stroke-width="1" stroke-dasharray="3 3" stroke-dashoffset="5"/>
<line x1="351.5" y1="518" x2="351.5" y2="579" stroke="#000" stroke-width="1" stroke-dasharray="3 3" stroke-dashoffset="5"/>
<line x1="447.5" y1="518" x2="447.5" y2="579" stroke="#000" stroke-width="1" stroke-dasharray="3 3" stroke-dashoffset="5"/>
<line x1="543.5" y1="518" x2="543.5" y2="579" stroke="#000" stroke-width="1" stroke-dasharray="3 3" stroke-dashoffset="5"/>
<line x1="639.5" y1="518" x2="639.5" y2="579" stroke="#000" stroke-width="1" stroke-dasharray="3 3" stroke-dashoffset="5"/>
<line x1="735.5" y1="518" x2="735.5" y2="579" stroke="#000" stroke-width="1" stroke-dasharray="3 3" stroke-dashoffset="5"/>
<line x1="4" y1="536.5" x2="757" y2="536.5" stroke="#006400" stroke-width="1" stroke-dasharray="3 3"/>
<line x1="4" y1="560.5" x2="757" y2="560.5" stroke="#006400" stroke-width="1" stroke-dasharray="3 3"/>
<polyline points="3.00,558.75 7.00,561.00 11.00,557.50 15.00,556.90 19.00,556.90 23.00,556.90 27.00,556.90 31.00,560.00 35.00,561.90 39.00,556.50 43.00,555.60 47.00,555.60 51.00,557.00 55.00,558.00 59.00,559.50 63.00,559.75 67.00,559.75 71.00,559.75 75.00,559.75 79.00,559.75 83.00,556.90 87.00,556.90 91.00,556.90 95.00,551.25 99.00,552.25 103.00,554.00 107.00,557.75 111.00,555.60 115.00,556.00 119.00,559.00 123.00,552.50 127.00,555.60 131.00,555.60 135.00,545.00 139.00,545.00 143.00,548.75 147.00,539.00 151.00,538.75 155.00,538.50 159.00,537.50 163.00,537.50 167.00,537.50 171.00,537.50 175.00,537.50 179.00,537.50 183.00,537.50 187.00,537.50 191.00,542.50 195.00,542.75 199.00,541.00 203.00,540.00 207.00,537.50 211.00,535.00 215.00,534.75 219.00,534.75 223.00,534.75 227.00,535.60 231.00,535.60 235.00,535.60 239.00,534.00 243.00,533.10 247.00,533.50 251.00,538.75 255.00,534.75 259.00,542.75 263.00,541.25 267.00,541.00 271.00,542.75 275.00,543.50 279.00,544.75 283.00,545.25 287.00,551.25 291.00,552.75 295.00,545.00 299.00,545.00 303.00,547.50 307.00,549.75 311.00,550.00 315.00,548.10 319.00,545.00 323.00,544.75 327.00,544.00 331.00,544.00 335.00,545.00 339.00,545.00 343.00,544.00 347.00,544.00 351.00,544.00 355.00,544.00 359.00,540.00 363.00,539.75 367.00,541.00 371.00,541.50 375.00,541.50 379.00,541.90 383.00,547.50 387.00,548.10 391.00,546.00 395.00,544.40 399.00,543.50 403.00,534.00 407.00,533.50 411.00,533.10 415.00,536.90 419.00,536.50 423.00,534.75 427.00,541.00 431.00,539.40 435.00,539.40 439.00,539.75 443.00,539.75 447.00,537.50 451.00,538.75 455.00,539.75 459.00,539.75 463.00,539.75 467.00,539.00 471.00,539.75 475.00,539.75 479.00,539.00 483.00,544.00 487.00,544.00 491.00,541.50 495.00,540.00 499.00,546.90 503.00,545.60 507.00,546.00 511.00,547.75 515.00,549.75 519.00,549.75 523.00,549.75 527.00,547.75 531.00,547.75 535.00,546.90 539.00,546.90 543.00,546.90 547.00,546.90 551.00,548.10 555.00,549.75 559.00,549.75 563.00,548.10 567.00,548.10 571.00,549.75 575.00,551.90 579.00,546.90 583.00,552.50 587.00,555.60 591.00,555.60 595.00,555.60 599.00,546.90 603.00,548.10 607.00,557.50 611.00,561.90 615.00,561.90 619.00,561.90 623.00,561.00 627.00,562.25 631.00,561.50 635.00,559.75 639.00,559.75 643.00,559.75 647.00,560.00 651.00,561.00 655.00,557.25 659.00,556.90 663.00,556.00 667.00,555.60 671.00,554.00 675.00,554.00 679.00,557.50 683.00,558.75 687.00,559.00 691.00,559.00 695.00,557.75 699.00,558.75 703.00,551.25 707.00,548.75 711.00,548.50 715.00,550.60 719.00,551.00 723.00,551.25 727.00,553.75 731.00,554.00" fill="none" stroke="#008080" stroke-width="2.2" stroke-linejoin="round" />
</g>
<text x="7.5" y="530" text-anchor="start" fill="#000" stroke="#000" stroke-width="0.2" textLength="67" lengthAdjust="spacingAndGlyphs" xml:space="preserve">RSI(14) 41.6951</text>
<rect x="758" y="519" width="1" height="1" fill="#000"/>
<rect x="758" y="578" width="1" height="1" fill="#000"/>
<text x="761.5" y="528" text-anchor="start" fill="#000" stroke="#000" stroke-width="0.2" textLength="14" lengthAdjust="spacingAndGlyphs" xml:space="preserve">100</text>
<text x="760.5" y="540" text-anchor="start" fill="#000" stroke="#000" stroke-width="0.2" textLength="9.5" lengthAdjust="spacingAndGlyphs" xml:space="preserve">70</text>
<text x="760.5" y="564" text-anchor="start" fill="#000" stroke="#000" stroke-width="0.2" textLength="9.5" lengthAdjust="spacingAndGlyphs" xml:space="preserve">30</text>
<text x="761" y="576" text-anchor="start" fill="#000" stroke="#000" stroke-width="0.2" textLength="5" lengthAdjust="spacingAndGlyphs" xml:space="preserve">0</text>
<rect x="3" y="580" width="1" height="3" fill="#000"/>
<text x="2" y="592" text-anchor="start" fill="#000" stroke="#000" stroke-width="0.2" textLength="51.5" lengthAdjust="spacingAndGlyphs" xml:space="preserve">28 Feb 2018</text>
<rect x="67" y="580" width="1" height="3" fill="#000"/>
<text x="66" y="592" text-anchor="start" fill="#000" stroke="#000" stroke-width="0.2" textLength="50" lengthAdjust="spacingAndGlyphs" xml:space="preserve">1 Mar 01:00</text>
<rect x="131" y="580" width="1" height="3" fill="#000"/>
<text x="130" y="592" text-anchor="start" fill="#000" stroke="#000" stroke-width="0.2" textLength="50" lengthAdjust="spacingAndGlyphs" xml:space="preserve">1 Mar 17:00</text>
<rect x="195" y="580" width="1" height="3" fill="#000"/>
<text x="194" y="592" text-anchor="start" fill="#000" stroke="#000" stroke-width="0.2" textLength="50" lengthAdjust="spacingAndGlyphs" xml:space="preserve">2 Mar 09:00</text>
<rect x="259" y="580" width="1" height="3" fill="#000"/>
<text x="258" y="592" text-anchor="start" fill="#000" stroke="#000" stroke-width="0.2" textLength="50" lengthAdjust="spacingAndGlyphs" xml:space="preserve">5 Mar 01:00</text>
<rect x="323" y="580" width="1" height="3" fill="#000"/>
<text x="322" y="592" text-anchor="start" fill="#000" stroke="#000" stroke-width="0.2" textLength="50" lengthAdjust="spacingAndGlyphs" xml:space="preserve">5 Mar 17:00</text>
<rect x="387" y="580" width="1" height="3" fill="#000"/>
<text x="386" y="592" text-anchor="start" fill="#000" stroke="#000" stroke-width="0.2" textLength="50" lengthAdjust="spacingAndGlyphs" xml:space="preserve">6 Mar 09:00</text>
<rect x="451" y="580" width="1" height="3" fill="#000"/>
<text x="450" y="592" text-anchor="start" fill="#000" stroke="#000" stroke-width="0.2" textLength="50" lengthAdjust="spacingAndGlyphs" xml:space="preserve">7 Mar 01:00</text>
<rect x="515" y="580" width="1" height="3" fill="#000"/>
<text x="514" y="592" text-anchor="start" fill="#000" stroke="#000" stroke-width="0.2" textLength="50" lengthAdjust="spacingAndGlyphs" xml:space="preserve">7 Mar 17:00</text>
<rect x="579" y="580" width="1" height="3" fill="#000"/>
<text x="578" y="592" text-anchor="start" fill="#000" stroke="#000" stroke-width="0.2" textLength="50" lengthAdjust="spacingAndGlyphs" xml:space="preserve">8 Mar 09:00</text>
<rect x="643" y="580" width="1" height="3" fill="#000"/>
<text x="642" y="592" text-anchor="start" fill="#000" stroke="#000" stroke-width="0.2" textLength="50" lengthAdjust="spacingAndGlyphs" xml:space="preserve">9 Mar 01:00</text>
<rect x="707" y="580" width="1" height="3" fill="#000"/>
<text x="706" y="592" text-anchor="start" fill="#000" stroke="#000" stroke-width="0.2" textLength="50" lengthAdjust="spacingAndGlyphs" xml:space="preserve">9 Mar 17:00</text>
</svg>
</body></html>
